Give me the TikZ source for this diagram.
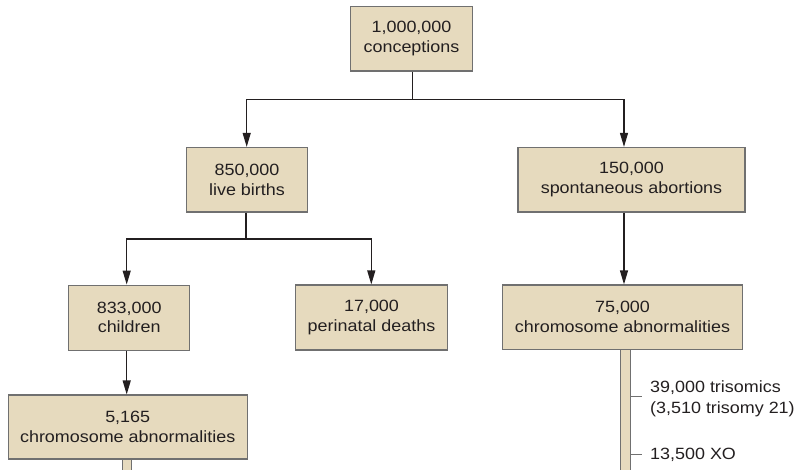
\documentclass[tikz,border=0pt]{standalone}
\usepackage{fontspec}
\setmainfont{Liberation Sans}[FakeStretch=1.1]
\usetikzlibrary{arrows.meta}
\definecolor{tan}{HTML}{E6DABE}
\definecolor{bordergray}{HTML}{707070}
\definecolor{ink}{HTML}{231F20}
\begin{document}
\begin{tikzpicture}[x=1pt,y=-1pt,
  box/.style={draw=bordergray, fill=tan, line width=1.1pt, inner sep=0pt,
    align=center, text=ink, font=\fontsize{16.3}{19.5}\selectfont},
  barbox/.style={draw=bordergray, fill=tan, line width=1pt, inner sep=0pt, anchor=north},
  conn/.style={draw=ink, line width=1.2pt},
  arr/.style={conn, -{Triangle[width=8pt,length=14pt]}},
  tick/.style={draw=bordergray, line width=1pt},
  lbl/.style={anchor=west, align=left, inner sep=0pt, text=ink, font=\fontsize{16.3}{20.5}\selectfont}]
\useasboundingbox (0,0) rectangle (798,469);
% boxes
\node[box, minimum width=122pt, minimum height=64.5pt] (conc) at (411.5,38.7) {1,000,000\\conceptions};
\node[box, minimum width=121pt, minimum height=64.5pt] (live) at (247,179.7) {850,000\\live births};
\node[box, minimum width=227pt, minimum height=64.5pt] (spont) at (631.5,179.7) {150,000\\spontaneous abortions};
\node[box, minimum width=121pt, minimum height=65pt] (child) at (129.2,317.6) {833,000\\children};
\node[box, minimum width=152.4pt, minimum height=65pt] (peri) at (371.5,317.5) {17,000\\perinatal deaths};
\node[box, minimum width=239.6pt, minimum height=64.3pt] (abn75) at (622.5,317.1) {75,000\\chromosome abnormalities};
\node[box, minimum width=238.7pt, minimum height=64pt] (abn5) at (127.7,427) {5,165\\chromosome abnormalities};
% bars
\node[barbox, minimum width=9.3pt, minimum height=140pt] (bar75) at (625.35,349.3) {};
\node[barbox, minimum width=8.6pt, minimum height=40pt] (bar5) at (127,459) {};
% connector junctions
\coordinate (j1) at (412.7,99.3);
\coordinate (j2) at (246,239);
% top split
\draw[conn] (conc.south -| j1) -- (j1);
\draw[arr] (j1) -| (live.north -| 246.7,0);
\draw[arr] (j1) -| (spont.north -| 624,0);
% live births split
\draw[conn] (live.south -| j2) -- (j2);
\draw[arr] (j2) -| (child.north -| 126.7,0);
\draw[arr] (j2) -| (peri.north -| 371.3,0);
% spontaneous -> 75,000
\draw[arr] (spont.south -| 624,0) -- (abn75.north -| 624,0);
% children -> 5,165
\draw[arr] (child.south -| 126.7,0) -- (abn5.north -| 126.7,0);
% ticks and labels
\coordinate (t1) at (bar75.east |- 0,396.7);
\coordinate (t2) at (bar75.east |- 0,454);
\draw[tick] (t1) -- ++(11.7,0);
\draw[tick] (t2) -- ++(11.7,0);
\node[lbl] (tri) at (650,399) {39,000 trisomics\\(3,510 trisomy 21)};
\node[lbl] (xo) at (650,454.5) {13,500 XO};
\end{tikzpicture}
\end{document}
